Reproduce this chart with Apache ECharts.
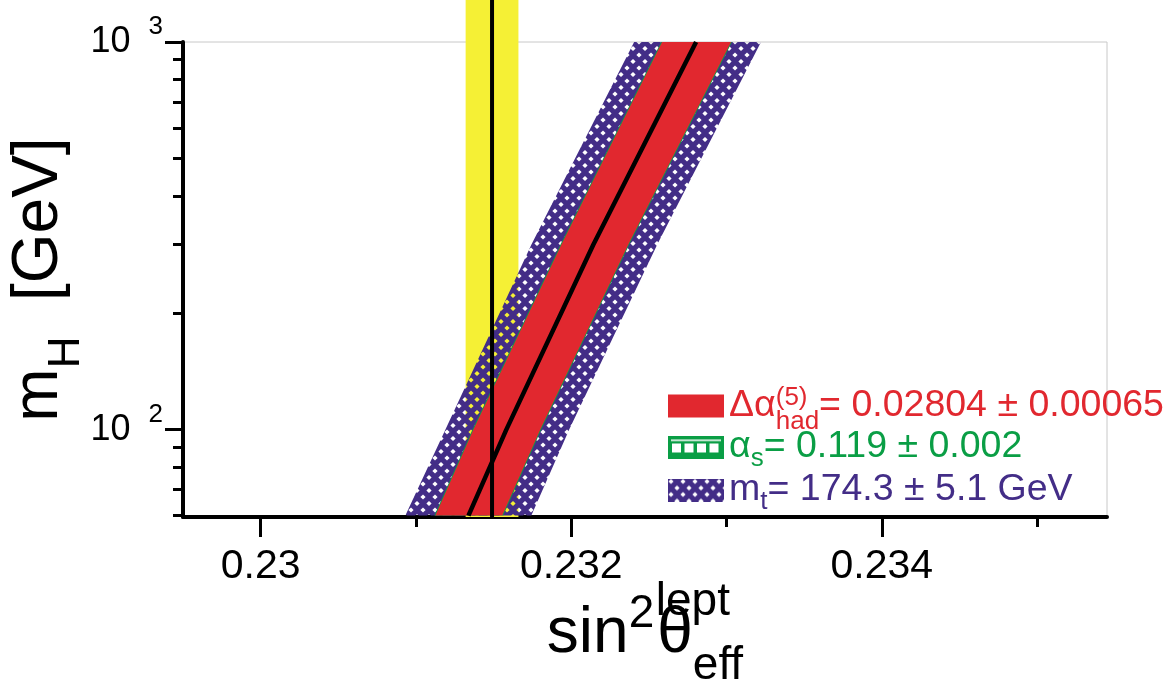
<!DOCTYPE html>
<html>
<head>
<meta charset="utf-8">
<script src="https://cdn.jsdelivr.net/npm/echarts@6/dist/echarts.min.js"></script>
<style>
  html, body { margin: 0; padding: 0; background: #fff; }
  #chart { width: 1175px; height: 690px; }
</style>
</head>
<body>
<div id="chart"></div>
<script>
// Higgs mass vs sin^2(theta_eff) bands
const mH = [60, 100, 300, 1000];
const smLine = [0.231338, 0.231582, 0.232142, 0.232804];
const dalphaLo = [0.231125, 0.231370, 0.231936, 0.232585];
const dalphaHi = [0.231556, 0.231801, 0.232367, 0.233029];
const alphasLo = [0.231119, 0.231364, 0.231930, 0.232579];
const alphasHi = [0.231562, 0.231807, 0.232373, 0.233035];
const mtLo = [0.230932, 0.231190, 0.231743, 0.232405];
const mtHi = [0.231743, 0.231987, 0.232553, 0.233222];

// measurement band: [low, central, high] and vertical extent
const measSin = [0.23132, 0.23149, 0.23166];
const measMh = [59.5, 1290];

const xTicks = [0.230, 0.232, 0.234];
const xMinorTicks = [0.231, 0.233, 0.235];
const yTicks = [100, 1000];
const yTickExp = { 100: '2', 1000: '3' };
const yMinorTicks = [60, 70, 80, 90, 200, 300, 400, 500, 600, 700, 800, 900];

const legendTexts = {
  dalpha: '{rm|Δα}{rsup|(5)}{rsub|had}{rm|= 0.02804 ± 0.00065}',
  alphas: '{gm|α}{gsub|s}{gm|= 0.119 ± 0.002}',
  mt: '{pm|m}{psub|t}{pm|= 174.3 ± 5.1 GeV}'
};

const RED = '#e1282f';
const GREEN = '#0a9e45';
const PURPLE = '#432d87';
const YELLOW = '#f5f035';
const FONT = '"Liberation Sans", Arial, Helvetica, sans-serif';

function dotCanvas(w, h) {
  const c = document.createElement('canvas');
  c.width = w; c.height = h;
  const g = c.getContext('2d');
  g.fillStyle = PURPLE;
  g.fillRect(0, 0, w, h);
  g.globalCompositeOperation = 'destination-out';
  for (let x = 3; x < w + 6; x += 12) {
    for (let y = 3; y < h + 6; y += 13) {
      [[x, y], [x + 6, y + 6.5]].forEach(function (p) {
        g.beginPath();
        g.moveTo(p[0], p[1] - 2.6);
        g.lineTo(p[0] + 2.6, p[1]);
        g.lineTo(p[0], p[1] + 2.6);
        g.lineTo(p[0] - 2.6, p[1]);
        g.closePath();
        g.fill();
      });
    }
  }
  return c;
}

function greenIcon() {
  const c = document.createElement('canvas');
  c.width = 56; c.height = 23;
  const g = c.getContext('2d');
  g.fillStyle = GREEN;
  g.fillRect(0, 0, 56, 23);
  g.fillStyle = '#fff';
  g.fillRect(3, 4, 50, 1.5);
  for (let i = 0; i < 4; i++) g.fillRect(4 + i * 12.5, 8, 9, 9);
  return c;
}

const dotPattern = { image: dotCanvas(12, 13), repeat: 'repeat' };

const chart = echarts.init(document.getElementById('chart'), null, { renderer: 'canvas' });

function bandRender(fill) {
  return function (params, api) {
    if (params.dataIndexInside !== 0) return null;
    const n = params.dataInsideLength;
    const pts = [];
    for (let i = 0; i < n; i++) pts.push(api.coord([api.value(0, i), api.value(2, i)]));
    for (let i = n - 1; i >= 0; i--) pts.push(api.coord([api.value(1, i), api.value(2, i)]));
    return { type: 'polygon', shape: { points: pts }, style: { fill: fill, stroke: null } };
  };
}

function bandData(lo, hi) {
  return mH.map(function (m, i) { return [lo[i], hi[i], m]; });
}

const legendRich = {
  rm: { fontFamily: FONT, fontSize: 37.5, lineHeight: 58, color: RED },
  rsup: { fontFamily: FONT, fontSize: 26, lineHeight: 26, verticalAlign: 'top', width: 0, padding: [8, 0, 0, 0], color: RED },
  rsub: { fontFamily: FONT, fontSize: 26, lineHeight: 26, verticalAlign: 'bottom', color: RED },
  gm: { fontFamily: FONT, fontSize: 37.5, lineHeight: 50, color: GREEN },
  gsub: { fontFamily: FONT, fontSize: 26, lineHeight: 26, verticalAlign: 'bottom', color: GREEN },
  pm: { fontFamily: FONT, fontSize: 37.5, lineHeight: 50, color: PURPLE },
  psub: { fontFamily: FONT, fontSize: 26, lineHeight: 26, verticalAlign: 'bottom', color: PURPLE }
};

function legendRow(item, top) {
  return {
    orient: 'vertical',
    left: 668,
    top: top,
    padding: 0,
    itemWidth: 56,
    itemHeight: 23,
    selectedMode: false,
    data: [item],
    formatter: function (name) { return legendTexts[name]; },
    textStyle: { rich: legendRich }
  };
}

const options = {
  animation: false,
  grid: {
    left: 183, right: 68, top: 42, bottom: 173,
    outerBoundsMode: 'none',
    containLabel: false,
    show: true, borderColor: '#c8c8c8', borderWidth: 1
  },
  xAxis: [{
    type: 'value',
    min: 0.2295,
    max: 0.23545,
    position: 'bottom',
    name: '{m|sin}{s2|2}{m|θ}{sup|lept}{sub|eff}',
    nameLocation: 'middle',
    nameGap: 62,
    nameMoveOverlap: false,
    nameTextStyle: {
      rich: {
        m: { fontFamily: FONT, fontSize: 64, lineHeight: 110, color: '#000' },
        s2: { fontFamily: FONT, fontSize: 46, lineHeight: 46, verticalAlign: 'top', padding: [12, 3, 0, 0], color: '#000' },
        sup: { fontFamily: FONT, fontSize: 46, lineHeight: 46, verticalAlign: 'top', width: 0, color: '#000' },
        sub: { fontFamily: FONT, fontSize: 46, lineHeight: 46, verticalAlign: 'bottom', color: '#000' }
      }
    },
    axisLine: { lineStyle: { color: '#000', width: 4 } },
    axisTick: { customValues: xTicks, length: 20, lineStyle: { color: '#000', width: 3 } },
    axisLabel: {
      customValues: xTicks,
      margin: 29,
      fontFamily: FONT,
      fontSize: 41,
      color: '#000'
    },
    splitLine: { show: false }
  }, {
    type: 'value',
    min: 0.2295,
    max: 0.23545,
    position: 'bottom',
    offset: 0,
    axisLine: { show: false },
    axisTick: { customValues: xMinorTicks, length: 10, lineStyle: { color: '#000', width: 3 } },
    axisLabel: { show: false },
    splitLine: { show: false }
  }],
  yAxis: [{
    type: 'log',
    logBase: 10,
    min: 59.5,
    max: 1000,
    position: 'left',
    name: '{m|m}{s|H}{m|  [GeV]}',
    nameLocation: 'middle',
    nameRotate: 90,
    nameGap: 112,
    nameMoveOverlap: false,
    nameTextStyle: {
      rich: {
        m: { fontFamily: FONT, fontSize: 64, lineHeight: 64, verticalAlign: 'top', color: '#000' },
        s: { fontFamily: FONT, fontSize: 44, lineHeight: 44, verticalAlign: 'top', padding: [38, 0, 0, 0], color: '#000' }
      }
    },
    axisLine: { lineStyle: { color: '#000', width: 4 } },
    axisTick: { customValues: yTicks, length: 18, lineStyle: { color: '#000', width: 3 } },
    axisLabel: {
      customValues: yTicks,
      margin: 20,
      formatter: function (v) { return '{b|10}{e|' + yTickExp[Math.round(v)] + '}'; },
      rich: {
        b: { fontFamily: FONT, fontSize: 36, lineHeight: 56, color: '#000' },
        e: { fontFamily: FONT, fontSize: 26, lineHeight: 26, verticalAlign: 'top', padding: [0, 0, 0, 18], color: '#000' }
      }
    },
    splitLine: { show: false }
  }, {
    type: 'log',
    logBase: 10,
    min: 59.5,
    max: 1000,
    position: 'left',
    offset: 0,
    axisLine: { show: false },
    axisTick: { customValues: yMinorTicks, length: 10, lineStyle: { color: '#000', width: 3 } },
    axisLabel: { show: false },
    splitLine: { show: false }
  }],
  legend: [
    legendRow({ name: 'dalpha', icon: 'rect', itemStyle: { color: RED } }, 377),
    legendRow({ name: 'alphas', icon: 'image://' + greenIcon().toDataURL() }, 428),
    legendRow({ name: 'mt', icon: 'image://' + dotCanvas(56, 23).toDataURL() }, 471)
  ],
  series: [{
    name: 'meas',
    type: 'custom',
    silent: true,
    clip: false,
    data: [[measSin[0], measSin[2], measMh[0], measMh[1]]],
    encode: { x: [0, 1], y: [2, 3] },
    renderItem: function (params, api) {
      const a = api.coord([api.value(0), api.value(3)]);
      const b = api.coord([api.value(1), api.value(2)]);
      return { type: 'rect', shape: { x: a[0], y: a[1], width: b[0] - a[0], height: b[1] - a[1] }, style: { fill: YELLOW } };
    }
  }, {
    name: 'measLine',
    type: 'line',
    silent: true,
    clip: false,
    showSymbol: false,
    data: [[measSin[1], measMh[0]], [measSin[1], measMh[1]]],
    lineStyle: { color: '#000', width: 4 }
  }, {
    name: 'mt',
    type: 'custom',
    silent: true,
    data: bandData(mtLo, mtHi),
    encode: { x: [0, 1], y: 2 },
    itemStyle: { color: PURPLE },
    renderItem: bandRender(dotPattern)
  }, {
    name: 'alphas',
    type: 'custom',
    silent: true,
    data: bandData(alphasLo, alphasHi),
    encode: { x: [0, 1], y: 2 },
    itemStyle: { color: GREEN },
    renderItem: bandRender(GREEN)
  }, {
    name: 'dalpha',
    type: 'custom',
    silent: true,
    data: bandData(dalphaLo, dalphaHi),
    encode: { x: [0, 1], y: 2 },
    itemStyle: { color: RED },
    renderItem: bandRender(RED)
  }, {
    name: 'sm',
    type: 'line',
    silent: true,
    showSymbol: false,
    data: mH.map(function (m, i) { return [smLine[i], m]; }),
    lineStyle: { color: '#000', width: 4.5 }
  }]
};

chart.setOption(options);
</script>
</body>
</html>
